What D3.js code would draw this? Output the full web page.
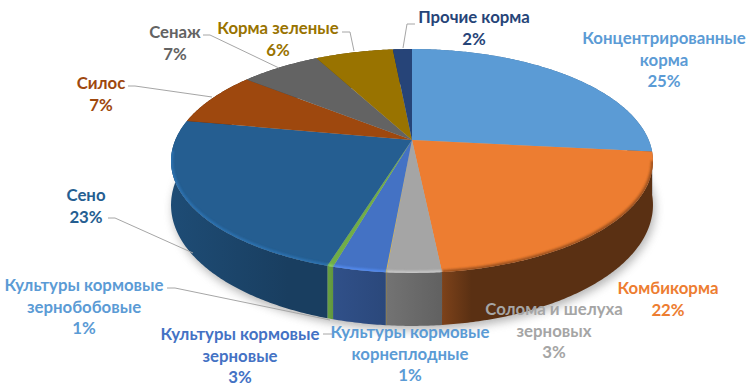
<!DOCTYPE html>
<html><head><meta charset="utf-8">
<script src="https://cdn.jsdelivr.net/npm/d3@7"></script>
<style>html,body{margin:0;padding:0;background:#fff}svg{display:block}
text{font-family:Lato,"Open Sans",sans-serif;font-weight:700;font-size:16.8px;text-anchor:middle;dominant-baseline:central}</style>
</head><body><svg id="c" width="752" height="389"></svg>
<script>
const categories=["Концентрированные корма","Комбикорма","Солома и шелуха зерновых","Культуры кормовые корнеплодные","Культуры кормовые зерновые","Культуры кормовые зернобобовые","Сено","Силос","Сенаж","Корма зеленые","Прочие корма"];
const drawnShare=[26.67,21.67,3.05,0.03,2.97,0.33,23.17,7.83,6.47,6.25,1.53];
const percentLabels=["25%","22%","3%","1%","3%","1%","23%","7%","7%","6%","2%"];
const sliceColors=["#5B9BD5","#ED7D31","#A5A5A5","#FFC000","#4472C4","#70AD47","#255E91","#9E480E","#636363","#997300","#264478"];
const labelColors=["#5B9BD5","#ED7D31","#A5A5A5","#5B9BD5","#4472C4","#5B9BD5","#255E91","#9E480E","#636363","#997300","#264478"];
const wallDark=[[1,1.2],[1.8,2.7],[1,1.5],[2,2],[1,1.3],[.2,.4],[.6,1.15],[1.5,2],[1,1.5],[1,1.5],[1,1.5]];
const wallStop=[1,.14,1,1,1,1,.75,1,1,1,1];
const labelLines=[["Концентрированные","корма"],["Комбикорма"],["Солома и шелуха","зерновых"],["Культуры кормовые","корнеплодные"],["Культуры кормовые","зерновые"],["Культуры кормовые","зернобобовые"],["Сено"],["Силос"],["Сенаж"],["Корма зеленые"],["Прочие корма"]];
const labelPos=[[664,37],[668,287],[554,308],[410,331],[240,333],[84,284],[86,194],[101,82],[175,31],[278,27],[474,16]];
const leaders=[[[415,24],[407,24],[403,48]],[[342,32],[350,32],[354,51]],[[203,35],[210,35],[279,68]],[[128,86],[135,86],[212,97]],[[108,218],[115,218],[193,253]],[[167,288],[175,288],[330,320]],[[323,334],[332,334]]];

const svg=d3.select("#c"),defs=svg.append("defs");
const cx=412,apexY=140,k=0.1875,a=108,b=236.7,cyTop=161,ryTop=112,cyBot=205,ryBot=121;
function topPt(t){const u=Math.sin(t),v=-Math.cos(t),w=1-k*v;return [cx+b*u/w,apexY+a*v/w];}
function botPt(t){const p=topPt(t);return [p[0],cyBot+(p[1]-cyTop)*ryBot/ryTop];}
const line=d3.line();
function samples(s,e){const n=Math.max(2,Math.ceil((e-s)/0.01));return d3.range(n+1).map(i=>s+(e-s)*i/n);}

const arcs=d3.pie().sort(null).value(d=>d)(drawnShare);

defs.append("filter").attr("id","sh").attr("x","-20%").attr("y","-20%").attr("width","140%").attr("height","140%").append("feGaussianBlur").attr("stdDeviation",5);
defs.append("filter").attr("id","rim").attr("filterUnits","userSpaceOnUse").attr("x",0).attr("y",0).attr("width",752).attr("height",389).append("feGaussianBlur").attr("stdDeviation",1.2);
defs.append("clipPath").attr("id","pieClip").append("path").attr("d",line(samples(0,2*Math.PI).map(topPt))+"Z");

// soft shadow behind the body
svg.append("path").attr("d",line(samples(0,2*Math.PI).map(t=>{const p=botPt(t);return [p[0]+2,p[1]+4];}))+"Z")
  .attr("fill","#777").attr("opacity",.55).attr("filter","url(#sh)");

// walls
arcs.forEach((d,i)=>{
  const g=defs.append("linearGradient").attr("id","w"+i);
  g.append("stop").attr("offset",0).attr("stop-color",d3.color(sliceColors[i]).darker(wallDark[i][0]));
  g.append("stop").attr("offset",wallStop[i]).attr("stop-color",d3.color(sliceColors[i]).darker(wallDark[i][1]));
});
svg.append("g").selectAll("path").data(arcs).join("path")
  .attr("d",d=>{const ts=samples(d.startAngle,d.endAngle);return line(ts.map(topPt).concat(ts.slice().reverse().map(botPt)))+"Z";})
  .attr("fill",(d,i)=>`url(#w${i})`);

// top face
svg.append("g").selectAll("path").data(arcs).join("path")
  .attr("d",d=>line([[cx,apexY]].concat(samples(d.startAngle,d.endAngle).map(topPt)))+"Z")
  .attr("fill",(d,i)=>sliceColors[i]);

// bevel rim on the front edge only
const rimFrom=Math.PI*0.56,rimTo=Math.PI*1.47;
svg.append("g").attr("clip-path","url(#pieClip)").selectAll("path")
  .data(arcs.filter(d=>d.endAngle>rimFrom&&d.startAngle<rimTo)).join("path")
  .attr("d",d=>line(samples(Math.max(d.startAngle,rimFrom),Math.min(d.endAngle,rimTo)).map(topPt)))
  .attr("fill","none").attr("stroke-width",4).attr("filter","url(#rim)").attr("opacity",.9)
  .attr("stroke",d=>d.index===1?d3.color(sliceColors[1]).darker(1.4):d3.color(sliceColors[d.index]).brighter(.6));

// leader lines
svg.append("g").selectAll("path").data(leaders).join("path")
  .attr("d",d=>line(d)).attr("fill","none").attr("stroke","#A6A6A6").attr("stroke-width",1);

// labels
const lab=svg.append("g").selectAll("text").data(categories).join("text")
  .attr("fill",(d,i)=>labelColors[i]);
lab.each(function(d,i){
  const t=d3.select(this);
  labelLines[i].concat([percentLabels[i]]).forEach((s,j)=>{
    t.append("tspan").attr("x",labelPos[i][0]).attr("y",labelPos[i][1]+j*21.5).text(s);
  });
});
</script></body></html>
